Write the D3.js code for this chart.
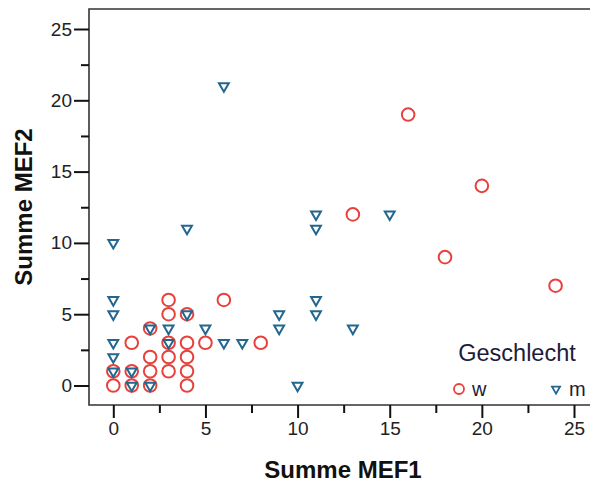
<!DOCTYPE html>
<html>
<head>
<meta charset="utf-8">
<script src="https://cdn.jsdelivr.net/npm/d3@7"></script>
<style>
  body { margin: 0; background: #fff; }
  text { font-family: "Liberation Sans", Arial, sans-serif; }
</style>
</head>
<body>
<div id="chart"></div>
<script>
// Geschlecht w (Kreise)
const wMef1 = [0, 1, 2, 4, 0, 1, 2, 3, 4, 2, 3, 4, 1, 3, 4, 5, 8, 2, 3, 4, 3, 6, 24, 18, 13, 20, 16];
const wMef2 = [0, 0, 0, 0, 1, 1, 1, 1, 1, 2, 2, 2, 3, 3, 3, 3, 3, 4, 5, 5, 6, 6, 7, 9, 12, 14, 19];
// Geschlecht m (Dreiecke)
const mMef1 = [0, 1, 1, 2, 10, 0, 0, 3, 6, 7, 2, 3, 5, 9, 13, 0, 4, 9, 11, 0, 11, 0, 4, 11, 11, 15, 6];
const mMef2 = [1, 1, 0, 0, 0, 2, 3, 3, 3, 3, 4, 4, 4, 4, 4, 5, 5, 5, 5, 6, 6, 10, 11, 11, 12, 12, 21];

const majorTicks = [0, 5, 10, 15, 20, 25];
const minorTicks = [2.5, 7.5, 12.5, 17.5, 22.5];
const legendLabels = ["w", "m"];

const width = 590, height = 482;
const red = "#e8413c", blue = "#23668f";

const svg = d3.select("#chart").append("svg")
    .attr("width", width)
    .attr("height", height);

const x = d3.scaleLinear().domain([0, 25]).range([113.3, 574]);
const y = d3.scaleLinear().domain([0, 25]).range([385.5, 29]);

const frameL = 89, frameT = 9, frameR = 590, frameB = 405;

// Rahmen
svg.append("path")
    .attr("d", `M${frameR},${frameT}H${frameL}V${frameB}H${frameR}`)
    .attr("fill", "none")
    .attr("stroke", "#333")
    .attr("stroke-width", 1.6);

// y-Achse
const yAxis = svg.append("g").attr("transform", `translate(${frameL},0)`);
yAxis.call(d3.axisLeft(y).tickValues(majorTicks).tickSize(15).tickPadding(2))
    .call(g => g.select(".domain").remove());
yAxis.selectAll(".tick line").attr("stroke", "#111").attr("stroke-width", 2);
yAxis.selectAll(".tick text").attr("font-size", 19).attr("fill", "#222")
    .attr("font-family", "Liberation Sans, Arial, sans-serif");
const yMinor = svg.append("g").attr("transform", `translate(${frameL},0)`);
yMinor.call(d3.axisLeft(y).tickValues(minorTicks).tickSize(8).tickFormat(""))
    .call(g => g.select(".domain").remove());
yMinor.selectAll(".tick line").attr("stroke", "#111").attr("stroke-width", 2);

// x-Achse
const xAxis = svg.append("g").attr("transform", `translate(0,${frameB})`);
xAxis.call(d3.axisBottom(x).tickValues(majorTicks).tickSize(13).tickPadding(4))
    .call(g => g.select(".domain").remove());
xAxis.selectAll(".tick line").attr("stroke", "#111").attr("stroke-width", 2);
xAxis.selectAll(".tick text").attr("font-size", 19).attr("fill", "#222")
    .attr("font-family", "Liberation Sans, Arial, sans-serif");
const xMinor = svg.append("g").attr("transform", `translate(0,${frameB})`);
xMinor.call(d3.axisBottom(x).tickValues(minorTicks).tickSize(8).tickFormat(""))
    .call(g => g.select(".domain").remove());
xMinor.selectAll(".tick line").attr("stroke", "#111").attr("stroke-width", 2);

// Achsentitel
svg.append("text")
    .attr("x", 343).attr("y", 478)
    .attr("text-anchor", "middle")
    .attr("font-size", 24).attr("font-weight", "bold").attr("fill", "#111")
    .text("Summe MEF1");
svg.append("text")
    .attr("transform", "translate(32,207) rotate(-90)")
    .attr("text-anchor", "middle")
    .attr("font-size", 24).attr("font-weight", "bold").attr("fill", "#111")
    .text("Summe MEF2");

// Punkte
const wData = wMef1.map((v, i) => [v, wMef2[i]]);
const mData = mMef1.map((v, i) => [v, mMef2[i]]);

svg.append("g").selectAll("circle")
    .data(wData)
    .enter().append("circle")
    .attr("cx", d => x(d[0]))
    .attr("cy", d => y(d[1]))
    .attr("r", 6.3)
    .attr("fill", "none")
    .attr("stroke", red)
    .attr("stroke-width", 2);

const tri = d3.symbol().type(d3.symbolTriangle).size(42);
svg.append("g").selectAll("path")
    .data(mData)
    .enter().append("path")
    .attr("d", tri)
    .attr("transform", d => `translate(${x(d[0])},${y(d[1])}) rotate(180)`)
    .attr("fill", "#fff")
    .attr("stroke", blue)
    .attr("stroke-width", 2);

// Legende
svg.append("text")
    .attr("x", 517).attr("y", 361)
    .attr("text-anchor", "middle")
    .attr("font-size", 23.5).attr("fill", "#1c1c3a")
    .text("Geschlecht");

const leg = svg.append("g");
leg.append("circle")
    .attr("cx", 459).attr("cy", 389).attr("r", 5)
    .attr("fill", "none").attr("stroke", red).attr("stroke-width", 1.8);
leg.append("text")
    .attr("x", 472).attr("y", 396)
    .attr("font-size", 20).attr("fill", "#1c1c3a")
    .text(legendLabels[0]);
leg.append("path")
    .attr("d", d3.symbol().type(d3.symbolTriangle).size(28))
    .attr("transform", "translate(556,389) rotate(180)")
    .attr("fill", "#fff").attr("stroke", blue).attr("stroke-width", 1.8);
leg.append("text")
    .attr("x", 569).attr("y", 396)
    .attr("font-size", 20).attr("fill", "#1c1c3a")
    .text(legendLabels[1]);
</script>
</body>
</html>
